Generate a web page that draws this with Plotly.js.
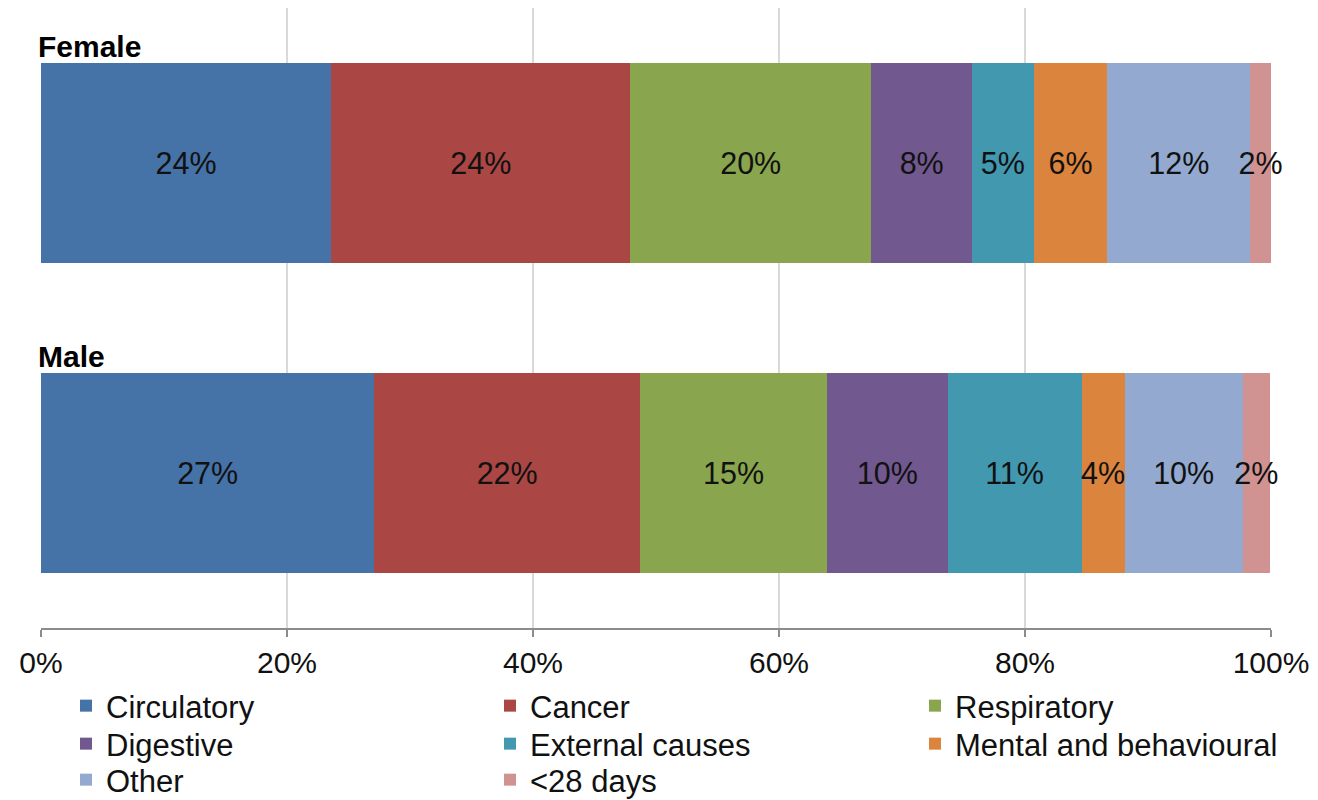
<!DOCTYPE html>
<html>
<head>
<meta charset="utf-8">
<script src="https://cdn.plot.ly/plotly-3.0.1.min.js"></script>
<style>html,body{margin:0;padding:0;background:#fff;}#chart{width:1318px;height:800px;}</style>
</head>
<body>
<div id="chart"></div>
<script>
const groups = ['Female', 'Male'];
const causes = ['Circulatory', 'Cancer', 'Respiratory', 'Digestive', 'External causes', 'Mental and behavioural', 'Other', '<28 days'];
const female = [23.6, 24.3, 19.6, 8.2, 5.0, 6.0, 11.6, 1.7];
const male = [27.1, 21.6, 15.2, 9.8, 10.9, 3.5, 9.6, 2.2];
const colors = ['#4572A7', '#AA4643', '#89A54E', '#71588F', '#4198AF', '#DB843D', '#93A9CF', '#D19392'];
const xTicks = [0, 20, 40, 60, 80, 100];
const xTickText = ['0%', '20%', '40%', '60%', '80%', '100%'];

const FONT = 'Liberation Sans, Arial, sans-serif';

// legend grid: 3 columns, rows filled left to right
const legendColX = [66, 490, 915];
const legendRowY = [706, 744, 780];

const traces = causes.map((c, i) => ({
  type: 'bar',
  orientation: 'h',
  name: c,
  legend: i === 0 ? 'legend' : 'legend' + (i + 1),
  y: groups,
  x: [female[i], male[i]],
  marker: {color: colors[i], line: {width: 0}},
  width: 0.645,
  texttemplate: '%{x:.0f}%',
  textposition: 'inside',
  insidetextanchor: 'middle',
  textangle: 0,
  constraintext: 'none',
  cliponaxis: false,
  textfont: {family: FONT, size: 30.5, color: '#111'},
  hoverinfo: 'skip'
}));

const layout = {
  width: 1318,
  height: 800,
  margin: {l: 41, r: 47, t: 8, b: 172, autoexpand: false},
  paper_bgcolor: '#fff',
  plot_bgcolor: '#fff',
  barmode: 'stack',
  showlegend: true,
  font: {family: FONT, color: '#111'},
  xaxis: {
    range: [0, 100],
    tickvals: xTicks,
    ticktext: xTickText,
    tickangle: 0,
    automargin: false,
    showgrid: true,
    gridcolor: '#d9d9d9',
    gridwidth: 1.5,
    zeroline: false,
    showline: true,
    linecolor: '#8c8c8c',
    linewidth: 1.5,
    ticks: 'outside',
    ticklen: 7,
    tickcolor: '#8c8c8c',
    tickwidth: 1.5,
    tickfont: {family: FONT, size: 30, color: '#111'},
    fixedrange: true
  },
  yaxis: {
    type: 'category',
    categoryorder: 'array',
    categoryarray: groups,
    range: [1.5, -0.5],
    automargin: false,
    showticklabels: false,
    showgrid: false,
    zeroline: false,
    showline: false,
    ticks: '',
    fixedrange: true
  },
  annotations: groups.map(g => ({
    xref: 'paper',
    yref: 'y',
    x: 0,
    y: g,
    xanchor: 'left',
    yanchor: 'middle',
    xshift: -5,
    yshift: 117,
    text: '<b>' + g + '</b>',
    showarrow: false,
    font: {family: FONT, size: 30, color: '#000'}
  }))
};

causes.forEach((c, i) => {
  const key = i === 0 ? 'legend' : 'legend' + (i + 1);
  layout[key] = {
    orientation: 'v',
    xref: 'container',
    yref: 'container',
    x: legendColX[i % 3] / 1318,
    xanchor: 'left',
    y: 1 - legendRowY[Math.floor(i / 3)] / 800,
    yanchor: 'middle',
    font: {family: FONT, size: 31, color: '#111'},
    itemclick: false,
    itemdoubleclick: false,
    bgcolor: 'rgba(0,0,0,0)',
    borderwidth: 0
  };
});

Plotly.newPlot('chart', traces, layout, {staticPlot: true, displayModeBar: false});
</script>
</body>
</html>
